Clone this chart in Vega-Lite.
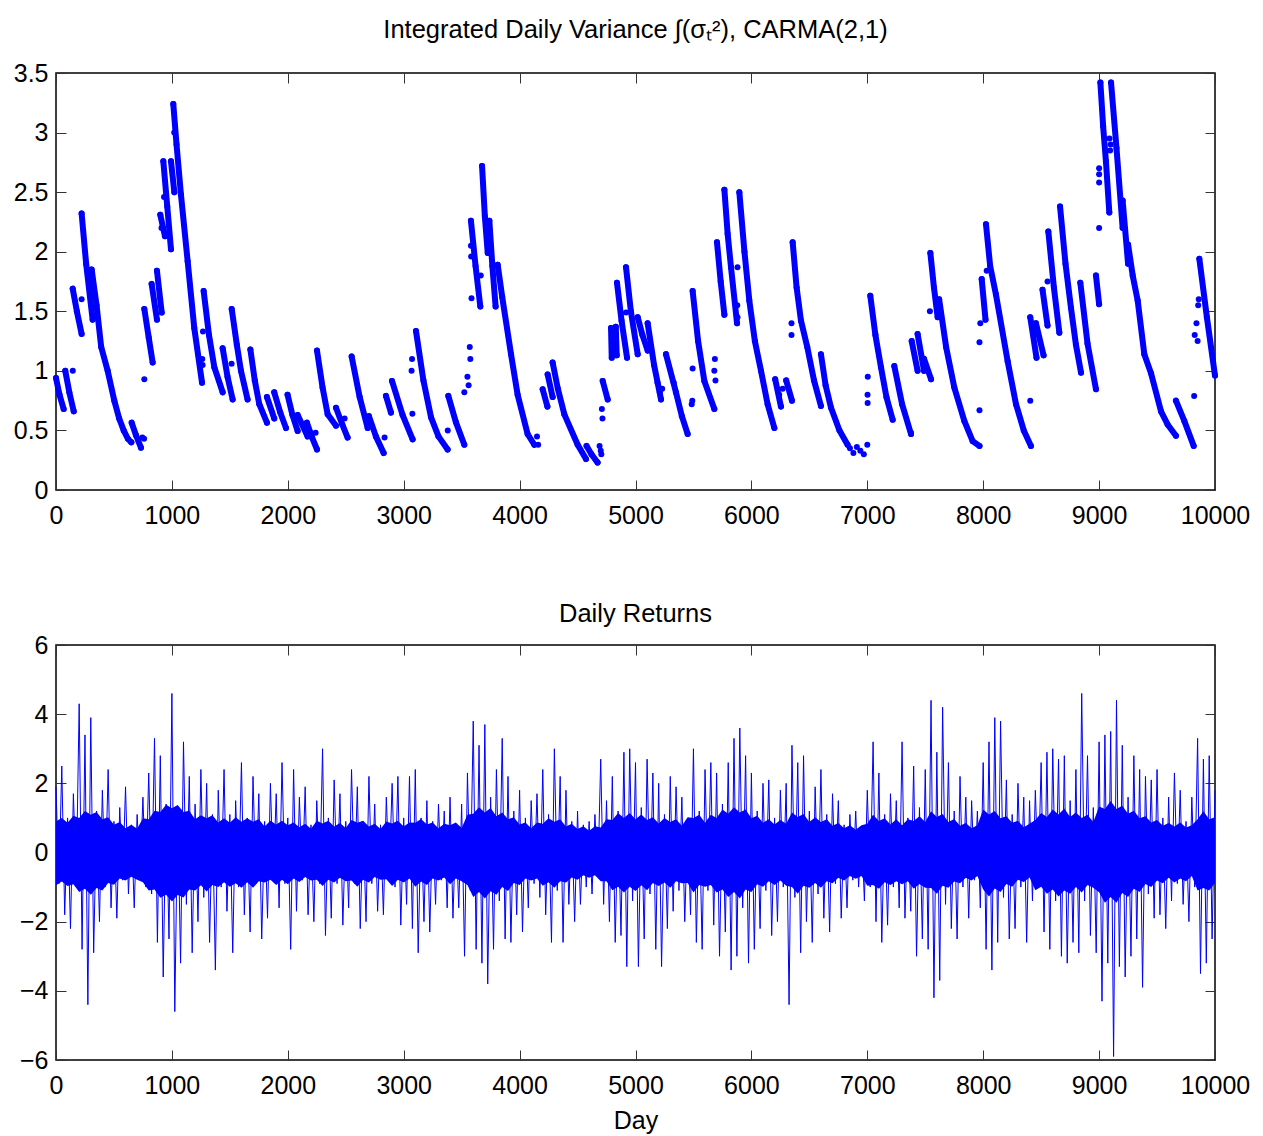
{
"$schema": "https://vega.github.io/schema/vega-lite/v6.json",
"background": "white",
"padding": {"left": 12, "top": 16, "right": 0, "bottom": 0},
"autosize": {"type": "pad"},
"spacing": 155,
"bounds": "flush",
"config": {
  "font": "Liberation Sans",
  "view": {"stroke": "black", "strokeWidth": 1.5},
  "axis": {"domain": false, "tickColor": "#333333", "tickWidth": 1, "tickSize": -10, "labelFont": "Liberation Sans", "labelFontSize": 25, "labelColor": "black", "labelFlush": false, "labelOverlap": false, "grid": false, "titleFont": "Liberation Sans", "titleFontSize": 25, "titleFontWeight": "normal", "titleColor": "black"},
  "axisX": {"labelPadding": 23},
  "axisY": {"labelPadding": 18},
  "title": {"font": "Liberation Sans", "fontSize": 25.5, "fontWeight": "normal", "color": "black", "baseline": "alphabetic", "anchor": "middle"}
},
"datasets": {
"top": [
{"s":1,"d":0,"v":0.94},{"s":1,"d":30,"v":0.8},{"s":1,"d":66,"v":0.68},
{"s":2,"d":80,"v":1.0},{"s":2,"d":115,"v":0.82},{"s":2,"d":153,"v":0.66},
{"d":145,"v":1.0},
{"s":3,"d":144,"v":1.69},{"s":3,"d":180,"v":1.5},{"s":3,"d":221,"v":1.31},
{"d":221,"v":1.6},
{"s":4,"d":221,"v":2.32},{"s":4,"d":260,"v":1.9},{"s":4,"d":316,"v":1.43},
{"s":5,"d":308,"v":1.85},{"s":5,"d":350,"v":1.55},{"s":5,"d":390,"v":1.2},{"s":5,"d":446,"v":1.0},{"s":5,"d":503,"v":0.75},{"s":5,"d":545,"v":0.6},{"s":5,"d":584,"v":0.5},{"s":5,"d":620,"v":0.43},{"s":5,"d":650,"v":0.4},
{"s":6,"d":653,"v":0.565},{"s":6,"d":690,"v":0.46},{"s":6,"d":733,"v":0.355},
{"d":745,"v":0.44},{"d":760,"v":0.43},
{"s":7,"d":762,"v":1.52},{"s":7,"d":800,"v":1.28},{"s":7,"d":834,"v":1.07},
{"d":762,"v":0.93},
{"s":8,"d":825,"v":1.73},{"s":8,"d":871,"v":1.43},
{"s":9,"d":871,"v":1.84},{"s":9,"d":912,"v":1.49},
{"s":10,"d":900,"v":2.31},{"s":10,"d":940,"v":2.13},
{"s":11,"d":926,"v":2.76},{"s":11,"d":960,"v":2.38},{"s":11,"d":992,"v":2.02},
{"s":12,"d":992,"v":2.76},{"s":12,"d":1021,"v":2.5},
{"s":13,"d":1012,"v":3.24},{"s":13,"d":1040,"v":2.9},{"s":13,"d":1078,"v":2.48},{"s":13,"d":1136,"v":1.92},{"s":13,"d":1193,"v":1.36},{"s":13,"d":1260,"v":0.9},
{"d":1020,"v":3.0},{"d":910,"v":2.2},{"d":932,"v":2.46},
{"s":14,"d":1274,"v":1.67},{"s":14,"d":1320,"v":1.3},{"s":14,"d":1366,"v":1.03},{"s":14,"d":1438,"v":0.82},
{"d":1262,"v":1.1},{"d":1265,"v":1.05},{"d":1268,"v":1.33},
{"s":15,"d":1438,"v":1.19},{"s":15,"d":1480,"v":0.95},{"s":15,"d":1524,"v":0.76},
{"d":1515,"v":1.06},
{"s":16,"d":1516,"v":1.52},{"s":16,"d":1560,"v":1.22},{"s":16,"d":1596,"v":1.0},{"s":16,"d":1653,"v":0.76},
{"s":17,"d":1677,"v":1.18},{"s":17,"d":1715,"v":0.92},{"s":17,"d":1754,"v":0.72},{"s":17,"d":1820,"v":0.565},
{"s":18,"d":1820,"v":0.78},{"s":18,"d":1883,"v":0.6},
{"s":19,"d":1883,"v":0.82},{"s":19,"d":1935,"v":0.65},{"s":19,"d":1984,"v":0.52},
{"s":20,"d":1998,"v":0.8},{"s":20,"d":2040,"v":0.63},{"s":20,"d":2085,"v":0.495},
{"s":21,"d":2085,"v":0.63},{"s":21,"d":2171,"v":0.45},
{"s":22,"d":2165,"v":0.565},{"s":22,"d":2210,"v":0.44},{"s":22,"d":2252,"v":0.34},
{"d":2240,"v":0.48},
{"s":23,"d":2252,"v":1.17},{"s":23,"d":2300,"v":0.86},{"s":23,"d":2344,"v":0.635},{"s":23,"d":2416,"v":0.54},
{"s":24,"d":2416,"v":0.69},{"s":24,"d":2470,"v":0.55},{"s":24,"d":2516,"v":0.44},
{"d":2490,"v":0.6},
{"s":25,"d":2551,"v":1.12},{"s":25,"d":2620,"v":0.78},{"s":25,"d":2689,"v":0.52},
{"s":26,"d":2700,"v":0.62},{"s":26,"d":2760,"v":0.45},{"s":26,"d":2827,"v":0.31},
{"d":2835,"v":0.44},
{"s":27,"d":2847,"v":0.79},{"s":27,"d":2890,"v":0.65},
{"s":28,"d":2899,"v":0.915},{"s":28,"d":2990,"v":0.63},{"s":28,"d":3077,"v":0.425},
{"d":3075,"v":0.64},{"d":3068,"v":1.0},{"d":3072,"v":1.1},
{"s":29,"d":3106,"v":1.335},{"s":29,"d":3170,"v":0.92},{"s":29,"d":3236,"v":0.61},{"s":29,"d":3300,"v":0.45},{"s":29,"d":3379,"v":0.34},
{"s":30,"d":3385,"v":0.79},{"s":30,"d":3450,"v":0.57},{"s":30,"d":3523,"v":0.38},
{"d":3380,"v":0.5},{"d":3523,"v":0.82},{"d":3550,"v":0.95},{"d":3560,"v":0.88},{"d":3570,"v":1.2},{"d":3575,"v":1.1},
{"s":31,"d":3580,"v":2.26},{"s":31,"d":3620,"v":1.88},{"s":31,"d":3661,"v":1.54},
{"d":3580,"v":2.05},{"d":3582,"v":1.96},{"d":3585,"v":1.61},{"d":3665,"v":1.8},
{"s":32,"d":3676,"v":2.72},{"s":32,"d":3700,"v":2.3},{"s":32,"d":3725,"v":1.99},
{"s":33,"d":3739,"v":2.26},{"s":33,"d":3765,"v":1.88},{"s":33,"d":3793,"v":1.54},
{"s":34,"d":3811,"v":1.89},{"s":34,"d":3850,"v":1.62},{"s":34,"d":3926,"v":1.14},{"s":34,"d":3983,"v":0.8},{"s":34,"d":4069,"v":0.47},{"s":34,"d":4127,"v":0.38},
{"d":4150,"v":0.45},{"d":4160,"v":0.38},
{"s":35,"d":4199,"v":0.845},{"s":35,"d":4240,"v":0.7},
{"s":36,"d":4242,"v":0.97},{"s":36,"d":4285,"v":0.78},
{"s":37,"d":4285,"v":1.07},{"s":37,"d":4330,"v":0.85},{"s":37,"d":4386,"v":0.635},{"s":37,"d":4501,"v":0.38},{"s":37,"d":4573,"v":0.26},
{"s":38,"d":4578,"v":0.37},{"s":38,"d":4620,"v":0.3},{"s":38,"d":4673,"v":0.23},
{"d":4690,"v":0.37},{"d":4700,"v":0.33},{"d":4705,"v":0.3},
{"s":39,"d":4717,"v":0.915},{"s":39,"d":4760,"v":0.76},
{"d":4710,"v":0.68},{"d":4715,"v":0.6},
{"s":40,"d":4789,"v":1.36},{"s":40,"d":4795,"v":1.11},
{"s":41,"d":4830,"v":1.37},{"s":41,"d":4838,"v":1.13},
{"s":42,"d":4840,"v":1.74},{"s":42,"d":4880,"v":1.42},{"s":42,"d":4927,"v":1.11},
{"s":43,"d":4918,"v":1.87},{"s":43,"d":4960,"v":1.5},{"s":43,"d":5019,"v":1.14},
{"d":4918,"v":1.49},
{"s":44,"d":5019,"v":1.45},{"s":44,"d":5060,"v":1.3},{"s":44,"d":5105,"v":1.17},
{"s":45,"d":5105,"v":1.4},{"s":45,"d":5160,"v":1.05},{"s":45,"d":5220,"v":0.76},
{"d":5190,"v":0.9},{"d":5210,"v":0.82},{"d":5230,"v":0.85},
{"s":46,"d":5263,"v":1.14},{"s":46,"d":5349,"v":0.82},{"s":46,"d":5400,"v":0.62},{"s":46,"d":5450,"v":0.47},
{"d":5330,"v":0.9},
{"s":47,"d":5493,"v":1.67},{"s":47,"d":5540,"v":1.25},{"s":47,"d":5594,"v":0.915},{"s":47,"d":5680,"v":0.68},
{"d":5493,"v":1.02},{"d":5485,"v":0.72},{"d":5490,"v":0.75},{"d":5680,"v":1.0},{"d":5685,"v":1.1},{"d":5690,"v":0.92},
{"s":48,"d":5703,"v":2.08},{"s":48,"d":5735,"v":1.75},{"s":48,"d":5767,"v":1.47},
{"s":49,"d":5767,"v":2.52},{"s":49,"d":5795,"v":2.15},{"s":49,"d":5824,"v":1.87},{"s":49,"d":5876,"v":1.4},
{"d":5880,"v":1.87},{"d":5880,"v":1.45},{"d":5878,"v":1.55},
{"s":50,"d":5896,"v":2.5},{"s":50,"d":5940,"v":2.0},{"s":50,"d":5982,"v":1.59},{"s":50,"d":6030,"v":1.25},{"s":50,"d":6083,"v":1.0},{"s":50,"d":6140,"v":0.72},{"s":50,"d":6198,"v":0.52},
{"s":51,"d":6205,"v":0.93},{"s":51,"d":6255,"v":0.7},
{"s":52,"d":6300,"v":0.92},{"s":52,"d":6350,"v":0.75},
{"d":6240,"v":0.8},{"d":6270,"v":0.85},
{"s":53,"d":6356,"v":2.08},{"s":53,"d":6390,"v":1.7},{"s":53,"d":6428,"v":1.42},{"s":53,"d":6482,"v":1.2},{"s":53,"d":6540,"v":0.92},{"s":53,"d":6600,"v":0.705},
{"d":6346,"v":1.4},{"d":6346,"v":1.3},
{"s":54,"d":6600,"v":1.14},{"s":54,"d":6640,"v":0.88},{"s":54,"d":6687,"v":0.69},{"s":54,"d":6760,"v":0.5},{"s":54,"d":6830,"v":0.38},
{"d":6850,"v":0.35},{"d":6880,"v":0.31},{"d":6910,"v":0.36},{"d":6940,"v":0.33},{"d":6970,"v":0.3},{"d":7000,"v":0.38},
{"d":7004,"v":0.95},{"d":7002,"v":0.8},{"d":7003,"v":0.73},
{"s":55,"d":7026,"v":1.63},{"s":55,"d":7070,"v":1.3},{"s":55,"d":7118,"v":1.03},{"s":55,"d":7165,"v":0.78},{"s":55,"d":7219,"v":0.59},
{"s":56,"d":7233,"v":1.04},{"s":56,"d":7300,"v":0.72},{"s":56,"d":7377,"v":0.47},
{"s":57,"d":7383,"v":1.25},{"s":57,"d":7434,"v":1.0},
{"s":58,"d":7434,"v":1.31},{"s":58,"d":7490,"v":1.0},
{"s":59,"d":7490,"v":1.1},{"s":59,"d":7550,"v":0.93},
{"d":7377,"v":0.48},
{"s":60,"d":7544,"v":1.99},{"s":60,"d":7575,"v":1.7},{"s":60,"d":7607,"v":1.45},
{"s":61,"d":7620,"v":1.6},{"s":61,"d":7680,"v":1.2},{"s":61,"d":7751,"v":0.86},{"s":61,"d":7837,"v":0.58},{"s":61,"d":7909,"v":0.41},{"s":61,"d":7968,"v":0.37},
{"d":7540,"v":1.5},{"d":7968,"v":0.67},{"d":7968,"v":1.24},{"d":7975,"v":1.4},
{"s":62,"d":7987,"v":1.77},{"s":62,"d":8020,"v":1.43},
{"s":63,"d":8024,"v":2.23},{"s":63,"d":8060,"v":1.88},{"s":63,"d":8110,"v":1.64},{"s":63,"d":8211,"v":1.08},{"s":63,"d":8283,"v":0.72},{"s":63,"d":8350,"v":0.5},{"s":63,"d":8412,"v":0.37},
{"d":8030,"v":1.84},{"d":8406,"v":0.75},
{"s":64,"d":8406,"v":1.45},{"s":64,"d":8460,"v":1.11},
{"s":65,"d":8455,"v":1.4},{"s":65,"d":8521,"v":1.13},
{"s":66,"d":8512,"v":1.68},{"s":66,"d":8555,"v":1.38},
{"d":8555,"v":1.75},
{"s":67,"d":8562,"v":2.17},{"s":67,"d":8610,"v":1.7},{"s":67,"d":8657,"v":1.32},
{"s":68,"d":8663,"v":2.38},{"s":68,"d":8710,"v":1.9},{"s":68,"d":8757,"v":1.53},{"s":68,"d":8800,"v":1.22},{"s":68,"d":8844,"v":0.985},
{"s":69,"d":8838,"v":1.74},{"s":69,"d":8900,"v":1.23},{"s":69,"d":8973,"v":0.845},
{"s":70,"d":8973,"v":1.8},{"s":70,"d":9000,"v":1.56},
{"d":9000,"v":2.2},{"d":9000,"v":2.58},{"d":9000,"v":2.65},{"d":9000,"v":2.7},
{"s":71,"d":9011,"v":3.42},{"s":71,"d":9035,"v":3.05},{"s":71,"d":9059,"v":2.76},{"s":71,"d":9088,"v":2.33},
{"s":72,"d":9103,"v":3.42},{"s":72,"d":9150,"v":2.87},{"s":72,"d":9203,"v":2.2},
{"d":9090,"v":2.95},{"d":9095,"v":2.85},{"d":9100,"v":2.9},
{"s":73,"d":9203,"v":2.43},{"s":73,"d":9250,"v":1.9},
{"s":74,"d":9250,"v":2.06},{"s":74,"d":9290,"v":1.8},{"s":74,"d":9333,"v":1.59},{"s":74,"d":9390,"v":1.14},{"s":74,"d":9448,"v":0.98},{"s":74,"d":9534,"v":0.66},{"s":74,"d":9591,"v":0.55},{"s":74,"d":9663,"v":0.455},
{"s":75,"d":9663,"v":0.75},{"s":75,"d":9735,"v":0.58},{"s":75,"d":9816,"v":0.37},
{"d":9820,"v":0.79},{"d":9825,"v":1.3},{"d":9840,"v":1.4},{"d":9850,"v":1.25},{"d":9855,"v":1.55},{"d":9860,"v":1.6},
{"s":76,"d":9865,"v":1.94},{"s":76,"d":9930,"v":1.45},{"s":76,"d":10000,"v":0.96}
],
"env": [
{"d":0,"lo":-0.95,"hi":0.9},{"d":50,"lo":-0.84,"hi":1.0},{"d":100,"lo":-0.97,"hi":0.86},{"d":150,"lo":-0.92,"hi":1.06},{"d":200,"lo":-1.14,"hi":1.0},
{"d":250,"lo":-1.05,"hi":1.2},{"d":300,"lo":-1.22,"hi":1.09},{"d":350,"lo":-1.03,"hi":1.17},{"d":400,"lo":-1.1,"hi":0.96},{"d":450,"lo":-0.88,"hi":1.02},
{"d":500,"lo":-0.93,"hi":0.8},{"d":550,"lo":-0.75,"hi":0.88},{"d":600,"lo":-0.81,"hi":0.7},{"d":650,"lo":-0.7,"hi":0.8},{"d":700,"lo":-0.79,"hi":0.69},
{"d":750,"lo":-0.86,"hi":0.99},{"d":800,"lo":-1.1,"hi":0.96},{"d":850,"lo":-1.07,"hi":1.21},{"d":900,"lo":-1.31,"hi":1.17},{"d":950,"lo":-1.22,"hi":1.38},
{"d":1000,"lo":-1.42,"hi":1.28},{"d":1050,"lo":-1.23,"hi":1.37},{"d":1100,"lo":-1.3,"hi":1.17},{"d":1150,"lo":-1.07,"hi":1.21},{"d":1200,"lo":-1.1,"hi":0.96},
{"d":1250,"lo":-0.95,"hi":1.08},{"d":1300,"lo":-1.13,"hi":0.99},{"d":1350,"lo":-0.94,"hi":1.08},{"d":1400,"lo":-1.0,"hi":0.87},{"d":1450,"lo":-0.86,"hi":0.99},
{"d":1500,"lo":-0.99,"hi":0.86},{"d":1550,"lo":-0.89,"hi":1.02},{"d":1600,"lo":-1.02,"hi":0.89},{"d":1650,"lo":-0.86,"hi":0.99},{"d":1700,"lo":-1.02,"hi":0.89},
{"d":1750,"lo":-0.83,"hi":0.96},{"d":1800,"lo":-0.87,"hi":0.75},{"d":1850,"lo":-0.79,"hi":0.92},{"d":1900,"lo":-0.94,"hi":0.81},{"d":1950,"lo":-0.79,"hi":0.92},
{"d":2000,"lo":-0.92,"hi":0.79},{"d":2050,"lo":-0.75,"hi":0.87},{"d":2100,"lo":-0.85,"hi":0.73},{"d":2150,"lo":-0.71,"hi":0.83},{"d":2200,"lo":-0.81,"hi":0.69},
{"d":2250,"lo":-0.79,"hi":0.92},{"d":2300,"lo":-0.97,"hi":0.84},{"d":2350,"lo":-0.79,"hi":0.92},{"d":2400,"lo":-0.87,"hi":0.75},{"d":2450,"lo":-0.73,"hi":0.85},
{"d":2500,"lo":-0.83,"hi":0.71},{"d":2550,"lo":-0.81,"hi":0.94},{"d":2600,"lo":-0.99,"hi":0.86},{"d":2650,"lo":-0.79,"hi":0.92},{"d":2700,"lo":-0.87,"hi":0.75},
{"d":2750,"lo":-0.71,"hi":0.83},{"d":2800,"lo":-0.79,"hi":0.68},{"d":2850,"lo":-0.77,"hi":0.9},{"d":2900,"lo":-0.97,"hi":0.84},{"d":2950,"lo":-0.79,"hi":0.92},
{"d":3000,"lo":-0.87,"hi":0.75},{"d":3050,"lo":-0.75,"hi":0.87},{"d":3100,"lo":-0.99,"hi":0.86},{"d":3150,"lo":-0.84,"hi":0.97},{"d":3200,"lo":-0.94,"hi":0.81},
{"d":3250,"lo":-0.75,"hi":0.87},{"d":3300,"lo":-0.81,"hi":0.7},{"d":3350,"lo":-0.72,"hi":0.83},{"d":3400,"lo":-0.92,"hi":0.79},{"d":3450,"lo":-0.75,"hi":0.87},
{"d":3500,"lo":-0.83,"hi":0.71},{"d":3550,"lo":-0.94,"hi":1.09},{"d":3600,"lo":-1.29,"hi":1.12},{"d":3650,"lo":-1.14,"hi":1.31},{"d":3700,"lo":-1.33,"hi":1.16},
{"d":3750,"lo":-1.12,"hi":1.29},{"d":3800,"lo":-1.22,"hi":1.05},{"d":3850,"lo":-1.0,"hi":1.16},{"d":3900,"lo":-1.11,"hi":0.96},{"d":3950,"lo":-0.88,"hi":1.02},
{"d":4000,"lo":-0.94,"hi":0.81},{"d":4050,"lo":-0.75,"hi":0.87},{"d":4100,"lo":-0.81,"hi":0.7},{"d":4150,"lo":-0.75,"hi":0.87},{"d":4200,"lo":-0.96,"hi":0.83},
{"d":4250,"lo":-0.86,"hi":0.99},{"d":4300,"lo":-1.02,"hi":0.89},{"d":4350,"lo":-0.83,"hi":0.96},{"d":4400,"lo":-0.87,"hi":0.75},{"d":4450,"lo":-0.72,"hi":0.83},
{"d":4500,"lo":-0.79,"hi":0.68},{"d":4550,"lo":-0.66,"hi":0.76},{"d":4600,"lo":-0.73,"hi":0.63},{"d":4650,"lo":-0.66,"hi":0.76},{"d":4700,"lo":-0.83,"hi":0.72},
{"d":4750,"lo":-0.83,"hi":0.96},{"d":4800,"lo":-1.09,"hi":0.94},{"d":4850,"lo":-0.99,"hi":1.14},{"d":4900,"lo":-1.16,"hi":1.0},{"d":4950,"lo":-0.99,"hi":1.14},
{"d":5000,"lo":-1.11,"hi":0.96},{"d":5050,"lo":-0.95,"hi":1.1},{"d":5100,"lo":-1.09,"hi":0.94},{"d":5150,"lo":-0.88,"hi":1.02},{"d":5200,"lo":-0.97,"hi":0.84},
{"d":5250,"lo":-0.87,"hi":1.0},{"d":5300,"lo":-1.02,"hi":0.88},{"d":5350,"lo":-0.83,"hi":0.96},{"d":5400,"lo":-0.89,"hi":0.77},{"d":5450,"lo":-0.88,"hi":1.02},
{"d":5500,"lo":-1.16,"hi":1.0},{"d":5550,"lo":-0.94,"hi":1.09},{"d":5600,"lo":-0.99,"hi":0.86},{"d":5650,"lo":-0.94,"hi":1.09},{"d":5700,"lo":-1.16,"hi":1.0},
{"d":5750,"lo":-1.07,"hi":1.24},{"d":5800,"lo":-1.29,"hi":1.12},{"d":5850,"lo":-1.14,"hi":1.31},{"d":5900,"lo":-1.33,"hi":1.16},{"d":5950,"lo":-1.07,"hi":1.24},
{"d":6000,"lo":-1.14,"hi":0.99},{"d":6050,"lo":-0.92,"hi":1.06},{"d":6100,"lo":-0.99,"hi":0.86},{"d":6150,"lo":-0.83,"hi":0.96},{"d":6200,"lo":-0.94,"hi":0.81},
{"d":6250,"lo":-0.81,"hi":0.94},{"d":6300,"lo":-0.96,"hi":0.83},{"d":6350,"lo":-1.0,"hi":1.16},{"d":6400,"lo":-1.19,"hi":1.03},{"d":6450,"lo":-0.96,"hi":1.11},
{"d":6500,"lo":-1.02,"hi":0.88},{"d":6550,"lo":-0.88,"hi":1.02},{"d":6600,"lo":-1.02,"hi":0.88},{"d":6650,"lo":-0.83,"hi":0.96},{"d":6700,"lo":-0.89,"hi":0.77},
{"d":6750,"lo":-0.73,"hi":0.85},{"d":6800,"lo":-0.81,"hi":0.7},{"d":6850,"lo":-0.68,"hi":0.79},{"d":6900,"lo":-0.76,"hi":0.66},{"d":6950,"lo":-0.68,"hi":0.79},
{"d":7000,"lo":-0.96,"hi":0.83},{"d":7050,"lo":-0.94,"hi":1.09},{"d":7100,"lo":-1.05,"hi":0.91},{"d":7150,"lo":-0.86,"hi":0.99},{"d":7200,"lo":-0.94,"hi":0.81},
{"d":7250,"lo":-0.83,"hi":0.96},{"d":7300,"lo":-0.92,"hi":0.79},{"d":7350,"lo":-0.83,"hi":0.96},{"d":7400,"lo":-1.05,"hi":0.91},{"d":7450,"lo":-0.91,"hi":1.05},
{"d":7500,"lo":-1.02,"hi":0.88},{"d":7550,"lo":-1.03,"hi":1.19},{"d":7600,"lo":-1.19,"hi":1.03},{"d":7650,"lo":-0.96,"hi":1.11},{"d":7700,"lo":-1.02,"hi":0.88},
{"d":7750,"lo":-0.84,"hi":0.97},{"d":7800,"lo":-0.89,"hi":0.77},{"d":7850,"lo":-0.73,"hi":0.85},{"d":7900,"lo":-0.81,"hi":0.7},{"d":7950,"lo":-0.68,"hi":0.79},
{"d":8000,"lo":-1.07,"hi":1.24},{"d":8050,"lo":-1.27,"hi":1.1},{"d":8100,"lo":-1.04,"hi":1.2},{"d":8150,"lo":-1.14,"hi":0.99},{"d":8200,"lo":-0.91,"hi":1.05},
{"d":8250,"lo":-0.99,"hi":0.86},{"d":8300,"lo":-0.79,"hi":0.92},{"d":8350,"lo":-0.85,"hi":0.73},{"d":8400,"lo":-0.72,"hi":0.83},{"d":8450,"lo":-1.09,"hi":0.94},
{"d":8500,"lo":-0.99,"hi":1.14},{"d":8550,"lo":-1.19,"hi":1.03},{"d":8600,"lo":-1.07,"hi":1.24},{"d":8650,"lo":-1.27,"hi":1.1},{"d":8700,"lo":-1.1,"hi":1.27},
{"d":8750,"lo":-1.19,"hi":1.03},{"d":8800,"lo":-1.0,"hi":1.16},{"d":8850,"lo":-1.16,"hi":1.0},{"d":8900,"lo":-0.94,"hi":1.09},{"d":8950,"lo":-1.02,"hi":0.88},
{"d":9000,"lo":-1.15,"hi":1.33},{"d":9050,"lo":-1.45,"hi":1.26},{"d":9100,"lo":-1.29,"hi":1.49},{"d":9150,"lo":-1.45,"hi":1.26},{"d":9200,"lo":-1.17,"hi":1.35},
{"d":9250,"lo":-1.29,"hi":1.12},{"d":9300,"lo":-1.05,"hi":1.21},{"d":9350,"lo":-1.14,"hi":0.99},{"d":9400,"lo":-0.91,"hi":1.05},{"d":9450,"lo":-1.0,"hi":0.87},
{"d":9500,"lo":-0.81,"hi":0.94},{"d":9550,"lo":-0.89,"hi":0.77},{"d":9600,"lo":-0.73,"hi":0.85},{"d":9650,"lo":-0.87,"hi":0.75},{"d":9700,"lo":-0.75,"hi":0.87},
{"d":9750,"lo":-0.83,"hi":0.72},{"d":9800,"lo":-0.68,"hi":0.79},{"d":9850,"lo":-1.1,"hi":0.96},{"d":9900,"lo":-1.03,"hi":1.19},{"d":9950,"lo":-1.1,"hi":0.96},
{"d":10000,"lo":-0.88,"hi":1.02}
],
"ret": [
{"d":0,"r":1.9},{"d":25,"r":-0.9},{"d":50,"r":2.5},{"d":75,"r":-1.8},
{"d":100,"r":1.0},{"d":125,"r":-2.2},{"d":150,"r":1.7},{"d":175,"r":-0.8},
{"d":200,"r":4.3},{"d":225,"r":-2.8},{"d":250,"r":3.4},{"d":275,"r":-4.4},
{"d":300,"r":3.9},{"d":325,"r":-2.9},{"d":350,"r":1.2},{"d":375,"r":-2.0},
{"d":400,"r":1.8},{"d":425,"r":-1.0},{"d":450,"r":2.4},{"d":475,"r":-1.6},
{"d":500,"r":0.9},{"d":525,"r":-1.9},{"d":550,"r":1.3},{"d":575,"r":-0.8},
{"d":600,"r":1.9},{"d":625,"r":-1.2},{"d":650,"r":0.8},{"d":675,"r":-1.6},
{"d":700,"r":1.1},{"d":725,"r":-0.7},{"d":750,"r":1.6},{"d":775,"r":-1.0},
{"d":800,"r":2.3},{"d":825,"r":-1.2},{"d":850,"r":3.3},{"d":875,"r":-2.6},
{"d":900,"r":2.8},{"d":925,"r":-3.6},{"d":950,"r":1.4},{"d":975,"r":-2.5},
{"d":1000,"r":4.6},{"d":1025,"r":-4.6},{"d":1050,"r":1.3},{"d":1075,"r":-3.2},
{"d":1100,"r":3.2},{"d":1125,"r":-1.5},{"d":1150,"r":2.2},{"d":1175,"r":-2.9},
{"d":1200,"r":1.4},{"d":1225,"r":-2.0},{"d":1250,"r":2.4},{"d":1275,"r":-1.3},
{"d":1300,"r":2.0},{"d":1325,"r":-2.6},{"d":1350,"r":1.1},{"d":1375,"r":-3.4},
{"d":1400,"r":1.8},{"d":1425,"r":-1.0},{"d":1450,"r":2.4},{"d":1475,"r":-1.7},
{"d":1500,"r":1.1},{"d":1525,"r":-2.9},{"d":1550,"r":1.5},{"d":1575,"r":-1.0},
{"d":1600,"r":2.6},{"d":1625,"r":-1.8},{"d":1650,"r":1.0},{"d":1675,"r":-2.3},
{"d":1700,"r":2.2},{"d":1725,"r":-0.9},{"d":1750,"r":1.7},{"d":1775,"r":-2.5},
{"d":1800,"r":0.9},{"d":1825,"r":-1.9},{"d":1850,"r":2.0},{"d":1875,"r":-0.8},
{"d":1900,"r":1.7},{"d":1925,"r":-1.6},{"d":1950,"r":2.6},{"d":1975,"r":-0.9},
{"d":2000,"r":1.0},{"d":2025,"r":-2.8},{"d":2050,"r":2.4},{"d":2075,"r":-1.7},
{"d":2100,"r":1.6},{"d":2125,"r":-0.8},{"d":2150,"r":1.9},{"d":2175,"r":-1.8},
{"d":2200,"r":0.8},{"d":2225,"r":-2.0},{"d":2250,"r":1.5},{"d":2275,"r":-0.9},
{"d":2300,"r":3.0},{"d":2325,"r":-2.4},{"d":2350,"r":1.0},{"d":2375,"r":-1.9},
{"d":2400,"r":2.1},{"d":2425,"r":-0.9},{"d":2450,"r":1.7},{"d":2475,"r":-2.1},
{"d":2500,"r":0.9},{"d":2525,"r":-1.6},{"d":2550,"r":2.4},{"d":2575,"r":-0.9},
{"d":2600,"r":1.9},{"d":2625,"r":-2.2},{"d":2650,"r":0.9},{"d":2675,"r":-2.0},
{"d":2700,"r":2.2},{"d":2725,"r":-0.9},{"d":2750,"r":1.4},{"d":2775,"r":-1.7},
{"d":2800,"r":0.8},{"d":2825,"r":-1.8},{"d":2850,"r":1.6},{"d":2875,"r":-0.7},
{"d":2900,"r":2.0},{"d":2925,"r":-1.0},{"d":2950,"r":2.2},{"d":2975,"r":-2.1},
{"d":3000,"r":1.0},{"d":3025,"r":-1.5},{"d":3050,"r":2.2},{"d":3075,"r":-2.2},
{"d":3100,"r":2.4},{"d":3125,"r":-2.9},{"d":3150,"r":1.0},{"d":3175,"r":-2.0},
{"d":3200,"r":1.5},{"d":3225,"r":-2.3},{"d":3250,"r":0.9},{"d":3275,"r":-1.5},
{"d":3300,"r":1.4},{"d":3325,"r":-0.8},{"d":3350,"r":1.2},{"d":3375,"r":-1.6},
{"d":3400,"r":1.6},{"d":3425,"r":-1.9},{"d":3450,"r":0.8},{"d":3475,"r":-1.6},
{"d":3500,"r":1.4},{"d":3525,"r":-3.0},{"d":3550,"r":2.3},{"d":3575,"r":-1.1},
{"d":3600,"r":3.8},{"d":3625,"r":-2.8},{"d":3650,"r":3.1},{"d":3675,"r":-3.2},
{"d":3700,"r":3.7},{"d":3725,"r":-3.8},{"d":3750,"r":1.6},{"d":3775,"r":-2.8},
{"d":3800,"r":2.4},{"d":3825,"r":-1.4},{"d":3850,"r":3.3},{"d":3875,"r":-2.5},
{"d":3900,"r":2.2},{"d":3925,"r":-2.6},{"d":3950,"r":1.2},{"d":3975,"r":-1.8},
{"d":4000,"r":1.8},{"d":4025,"r":-2.3},{"d":4050,"r":1.0},{"d":4075,"r":-1.6},
{"d":4100,"r":1.5},{"d":4125,"r":-0.9},{"d":4150,"r":1.7},{"d":4175,"r":-1.3},
{"d":4200,"r":2.4},{"d":4225,"r":-1.8},{"d":4250,"r":1.1},{"d":4275,"r":-2.6},
{"d":4300,"r":3.0},{"d":4325,"r":-1.1},{"d":4350,"r":2.2},{"d":4375,"r":-2.6},
{"d":4400,"r":1.8},{"d":4425,"r":-1.5},{"d":4450,"r":0.9},{"d":4475,"r":-2.0},
{"d":4500,"r":1.2},{"d":4525,"r":-1.5},{"d":4550,"r":0.8},{"d":4575,"r":-1.0},
{"d":4600,"r":0.9},{"d":4625,"r":-1.2},{"d":4650,"r":1.1},{"d":4675,"r":-0.7},
{"d":4700,"r":2.7},{"d":4725,"r":-1.5},{"d":4750,"r":1.5},{"d":4775,"r":-2.0},
{"d":4800,"r":2.2},{"d":4825,"r":-2.6},{"d":4850,"r":1.2},{"d":4875,"r":-2.4},
{"d":4900,"r":2.9},{"d":4925,"r":-3.3},{"d":4950,"r":3.0},{"d":4975,"r":-1.4},
{"d":5000,"r":2.6},{"d":5025,"r":-3.3},{"d":5050,"r":1.3},{"d":5075,"r":-2.5},
{"d":5100,"r":2.7},{"d":5125,"r":-1.2},{"d":5150,"r":2.3},{"d":5175,"r":-2.8},
{"d":5200,"r":2.0},{"d":5225,"r":-3.3},{"d":5250,"r":1.1},{"d":5275,"r":-2.2},
{"d":5300,"r":2.2},{"d":5325,"r":-1.7},{"d":5350,"r":1.9},{"d":5375,"r":-1.1},
{"d":5400,"r":1.6},{"d":5425,"r":-2.0},{"d":5450,"r":0.9},{"d":5475,"r":-1.8},
{"d":5500,"r":3.0},{"d":5525,"r":-2.6},{"d":5550,"r":1.2},{"d":5575,"r":-2.8},
{"d":5600,"r":2.4},{"d":5625,"r":-1.1},{"d":5650,"r":2.6},{"d":5675,"r":-2.1},
{"d":5700,"r":2.3},{"d":5725,"r":-3.0},{"d":5750,"r":1.4},{"d":5775,"r":-2.3},
{"d":5800,"r":2.6},{"d":5825,"r":-3.4},{"d":5850,"r":3.3},{"d":5875,"r":-3.0},
{"d":5900,"r":3.6},{"d":5925,"r":-1.6},{"d":5950,"r":2.8},{"d":5975,"r":-3.2},
{"d":6000,"r":2.3},{"d":6025,"r":-2.8},{"d":6050,"r":1.2},{"d":6075,"r":-2.2},
{"d":6100,"r":2.0},{"d":6125,"r":-1.1},{"d":6150,"r":2.1},{"d":6175,"r":-2.4},
{"d":6200,"r":1.0},{"d":6225,"r":-2.0},{"d":6250,"r":1.8},{"d":6275,"r":-1.0},
{"d":6300,"r":2.0},{"d":6325,"r":-4.4},{"d":6350,"r":3.1},{"d":6375,"r":-1.3},
{"d":6400,"r":2.6},{"d":6425,"r":-2.9},{"d":6450,"r":2.8},{"d":6475,"r":-2.0},
{"d":6500,"r":1.2},{"d":6525,"r":-2.6},{"d":6550,"r":1.9},{"d":6575,"r":-1.2},
{"d":6600,"r":2.4},{"d":6625,"r":-1.9},{"d":6650,"r":1.1},{"d":6675,"r":-2.3},
{"d":6700,"r":1.7},{"d":6725,"r":-0.9},{"d":6750,"r":1.5},{"d":6775,"r":-1.9},
{"d":6800,"r":0.8},{"d":6825,"r":-1.6},{"d":6850,"r":1.1},{"d":6875,"r":-0.8},
{"d":6900,"r":1.2},{"d":6925,"r":-1.0},{"d":6950,"r":0.7},{"d":6975,"r":-1.4},
{"d":7000,"r":1.8},{"d":7025,"r":-1.0},{"d":7050,"r":3.2},{"d":7075,"r":-2.0},
{"d":7100,"r":2.3},{"d":7125,"r":-2.6},{"d":7150,"r":1.1},{"d":7175,"r":-2.1},
{"d":7200,"r":1.7},{"d":7225,"r":-1.0},{"d":7250,"r":1.5},{"d":7275,"r":-1.6},
{"d":7300,"r":3.2},{"d":7325,"r":-1.9},{"d":7350,"r":1.0},{"d":7375,"r":-1.7},
{"d":7400,"r":2.5},{"d":7425,"r":-3.0},{"d":7450,"r":1.3},{"d":7475,"r":-2.5},
{"d":7500,"r":2.4},{"d":7525,"r":-2.8},{"d":7550,"r":4.4},{"d":7575,"r":-4.2},
{"d":7600,"r":2.9},{"d":7625,"r":-3.7},{"d":7650,"r":4.2},{"d":7675,"r":-1.5},
{"d":7700,"r":2.6},{"d":7725,"r":-2.2},{"d":7750,"r":1.2},{"d":7775,"r":-2.5},
{"d":7800,"r":2.2},{"d":7825,"r":-1.0},{"d":7850,"r":1.6},{"d":7875,"r":-1.9},
{"d":7900,"r":1.5},{"d":7925,"r":-0.8},{"d":7950,"r":1.2},{"d":7975,"r":-1.6},
{"d":8000,"r":2.6},{"d":8025,"r":-2.8},{"d":8050,"r":3.2},{"d":8075,"r":-3.4},
{"d":8100,"r":3.9},{"d":8125,"r":-2.6},{"d":8150,"r":3.8},{"d":8175,"r":-1.3},
{"d":8200,"r":2.1},{"d":8225,"r":-2.5},{"d":8250,"r":1.1},{"d":8275,"r":-2.2},
{"d":8300,"r":2.0},{"d":8325,"r":-1.0},{"d":8350,"r":1.6},{"d":8375,"r":-2.6},
{"d":8400,"r":1.5},{"d":8425,"r":-1.4},{"d":8450,"r":1.8},{"d":8475,"r":-0.8},
{"d":8500,"r":2.6},{"d":8525,"r":-2.3},{"d":8550,"r":2.9},{"d":8575,"r":-2.8},
{"d":8600,"r":3.0},{"d":8625,"r":-1.4},{"d":8650,"r":2.7},{"d":8675,"r":-3.0},
{"d":8700,"r":2.8},{"d":8725,"r":-3.2},{"d":8750,"r":1.5},{"d":8775,"r":-2.6},
{"d":8800,"r":2.4},{"d":8825,"r":-2.9},{"d":8850,"r":4.6},{"d":8875,"r":-1.4},
{"d":8900,"r":2.8},{"d":8925,"r":-2.4},{"d":8950,"r":1.3},{"d":8975,"r":-2.9},
{"d":9000,"r":3.2},{"d":9025,"r":-4.3},{"d":9050,"r":3.4},{"d":9075,"r":-3.2},
{"d":9100,"r":3.5},{"d":9125,"r":-5.9},{"d":9150,"r":4.4},{"d":9175,"r":-3.3},
{"d":9200,"r":3.1},{"d":9225,"r":-3.6},{"d":9250,"r":1.6},{"d":9275,"r":-3.0},
{"d":9300,"r":2.8},{"d":9325,"r":-2.5},{"d":9350,"r":2.4},{"d":9375,"r":-3.9},
{"d":9400,"r":2.2},{"d":9425,"r":-1.2},{"d":9450,"r":2.1},{"d":9475,"r":-1.9},
{"d":9500,"r":2.4},{"d":9525,"r":-1.8},{"d":9550,"r":1.0},{"d":9575,"r":-2.2},
{"d":9600,"r":1.6},{"d":9625,"r":-1.4},{"d":9650,"r":2.3},{"d":9675,"r":-0.9},
{"d":9700,"r":1.8},{"d":9725,"r":-1.5},{"d":9750,"r":0.9},{"d":9775,"r":-2.0},
{"d":9800,"r":1.6},{"d":9825,"r":-1.0},{"d":9850,"r":3.3},{"d":9875,"r":-3.5},
{"d":9900,"r":2.7},{"d":9925,"r":-3.2},{"d":9950,"r":2.8},{"d":9975,"r":-2.5},
{"d":10000,"r":1.8}
]
},
"vconcat": [
{
  "width": 1159, "height": 417,
  "title": {"text": "Integrated Daily Variance ∫(σₜ²), CARMA(2,1)", "offset": 18},
  "layer": [
    {"data": {"name": "top"}, "transform": [{"filter": "isValid(datum.s)"}],
     "mark": {"type": "line", "color": "#0000ff", "strokeWidth": 6, "strokeCap": "round", "strokeJoin": "round"},
     "encoding": {
       "x": {"field": "d", "type": "quantitative", "scale": {"domain": [0, 10000], "nice": false, "zero": false}, "axis": {"values": [0,1000,2000,3000,4000,5000,6000,7000,8000,9000,10000], "format": "d", "title": null}},
       "y": {"field": "v", "type": "quantitative", "scale": {"domain": [0, 3.5], "nice": false}, "axis": {"values": [0,0.5,1,1.5,2,2.5,3,3.5], "format": "~g", "title": null}},
       "detail": {"field": "s", "type": "nominal"}
     }},
    {"data": {"name": "top"},
     "mark": {"type": "circle", "color": "#0000ff", "size": 36, "opacity": 1},
     "encoding": {
       "x": {"field": "d", "type": "quantitative", "axis": null},
       "y": {"field": "v", "type": "quantitative", "axis": null}
     }},
    {"data": {"name": "top"},
     "mark": {"type": "circle", "opacity": 0},
     "encoding": {
       "x": {"field": "d", "type": "quantitative", "axis": {"orient": "top", "labels": false, "values": [0,1000,2000,3000,4000,5000,6000,7000,8000,9000,10000], "title": null}},
       "y": {"field": "v", "type": "quantitative", "axis": {"orient": "right", "labels": false, "values": [0,0.5,1,1.5,2,2.5,3,3.5], "title": null}}
     }}
  ],
  "resolve": {"axis": {"x": "independent", "y": "independent"}}
},
{
  "width": 1159, "height": 415,
  "title": {"text": "Daily Returns", "offset": 6},
  "layer": [
    {"data": {"name": "env"},
     "mark": {"type": "area", "color": "#0000ff", "opacity": 1},
     "encoding": {
       "x": {"field": "d", "type": "quantitative", "scale": {"domain": [0, 10000], "nice": false, "zero": false}, "axis": {"values": [0,1000,2000,3000,4000,5000,6000,7000,8000,9000,10000], "format": "d", "title": "Day", "titlePadding": 10}},
       "y": {"field": "lo", "type": "quantitative", "scale": {"domain": [-6, 6], "nice": false}, "axis": {"values": [-6,-4,-2,0,2,4,6], "format": "d", "title": null}},
       "y2": {"field": "hi"}
     }},
    {"data": {"name": "ret"},
     "mark": {"type": "line", "color": "#0000ff", "strokeWidth": 1},
     "encoding": {
       "x": {"field": "d", "type": "quantitative", "axis": null},
       "y": {"field": "r", "type": "quantitative", "axis": null}
     }},
    {"data": {"name": "env"},
     "mark": {"type": "circle", "opacity": 0},
     "encoding": {
       "x": {"field": "d", "type": "quantitative", "axis": {"orient": "top", "labels": false, "values": [0,1000,2000,3000,4000,5000,6000,7000,8000,9000,10000], "title": null}},
       "y": {"field": "lo", "type": "quantitative", "axis": {"orient": "right", "labels": false, "values": [-6,-4,-2,0,2,4,6], "title": null}}
     }}
  ],
  "resolve": {"axis": {"x": "independent", "y": "independent"}}
}
]
}
